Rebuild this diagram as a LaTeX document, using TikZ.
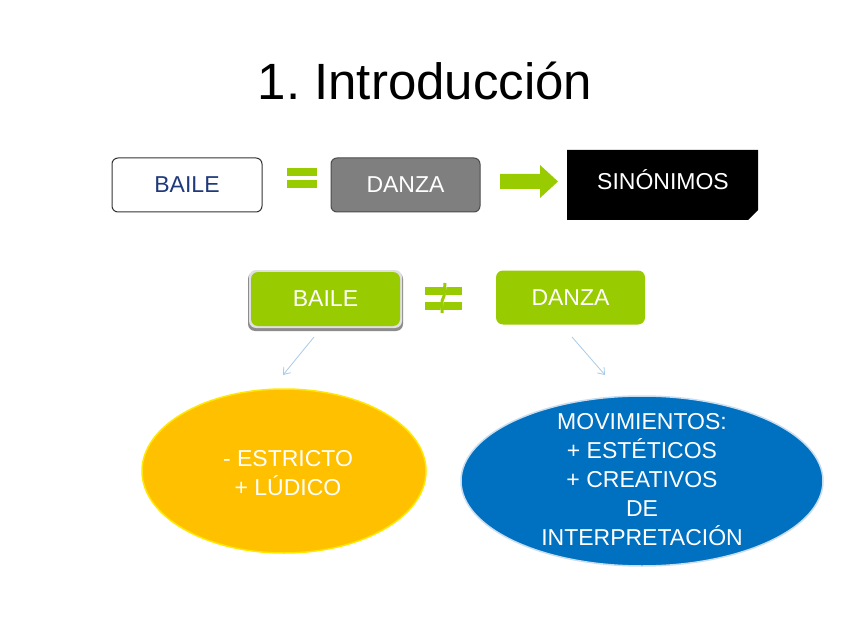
\documentclass[tikz,border=0pt]{standalone}
\usepackage{fontspec}
\setmainfont{Liberation Sans}
\usetikzlibrary{shapes.geometric,arrows.meta}
\definecolor{lgreen}{HTML}{99CC00}
\definecolor{navy}{HTML}{1F3A7A}
\definecolor{dgray}{HTML}{7F7F7F}
\definecolor{orng}{HTML}{FFC000}
\definecolor{oedge}{HTML}{FFE800}
\definecolor{blu}{HTML}{0070C0}
\definecolor{bedge}{HTML}{C9DDF0}
\definecolor{lblue}{HTML}{A9CBE8}
\tikzset{
  txt/.style={font=\fontsize{23}{29}\selectfont},
  boxw/.style={draw=black!80, line width=1pt, fill=white, rounded corners=6pt, minimum width=150pt, minimum height=54pt, inner sep=0pt, txt, text=navy},
  boxg/.style={draw=black!70, line width=1pt, fill=dgray, rounded corners=6pt, minimum width=149pt, minimum height=54pt, inner sep=0pt, txt, text=white},
  boxgreen/.style={fill=lgreen, rounded corners=7pt, minimum width=149pt, minimum height=54pt, inner sep=0pt, txt, text=white},
  conn/.style={draw=lblue, line width=0.8pt, -{Straight Barb[length=6pt,width=9pt]}},
  ell/.style={ellipse, inner sep=0pt},
  elltxt/.style={align=center, txt, text=white, inner sep=0pt},
}
\begin{document}
\begin{tikzpicture}[x=1pt,y=-1pt]
\useasboundingbox (0,0) rectangle (848,636);
\fill[white] (0,0) rectangle (848,636);
% title
\node[anchor=base, font=\fontsize{51}{60}\selectfont] (title) at (425,100) {1.\ Introducción};
% top row
\node[boxw] (baile1) at (187,185) {BAILE};
\fill[lgreen] (287,168) rectangle (317,176);
\fill[lgreen] (287,180) rectangle (317,188);
\node[boxg] (danza1) at (405.5,185) {DANZA};
\fill[lgreen] (500,174) -- (540,174) -- (540,165) -- (558,181.5) -- (540,198) -- (540,189) -- (500,189) -- cycle;
\node[minimum width=191pt, minimum height=70pt, inner sep=0pt] (sinbox) at (662.5,185) {};
\fill[black] (567,150) -- (758,150) -- (758,210) -- (748,220) -- (567,220) -- cycle;
\node[txt, text=white] (sin) at (663,180) {SINÓNIMOS};
% second row
\fill[black!45, rounded corners=7pt] (248,272) rectangle (403,331);
\fill[black!12, rounded corners=7pt] (249,270) rectangle (402,328);
\node[boxgreen] (baile2) at (325.5,299) {BAILE};
\fill[lgreen] (425,287) rectangle (462,295);
\fill[lgreen] (425,302) rectangle (462,310);
\draw[white, line width=2pt] (446,284) -- (441,313);
\draw[lgreen, line width=3pt] (445,283) -- (444,296) -- (442,301) -- (442,313);
\node[boxgreen] (danza2) at (570.5,297.5) {DANZA};
% ellipses
\node[ell, fill=orng, draw=oedge, line width=1.5pt, minimum width=284pt, minimum height=164pt] (strict) at (284,471) {};
\node[elltxt] (stricttxt) at (288,473) {- ESTRICTO\\+ LÚDICO};
\node[ell, fill=blu, draw=bedge, line width=1.5pt, minimum width=362pt, minimum height=170pt] (mov) at (642,481) {};
\node[elltxt] (movtxt) at (642,480) {MOVIMIENTOS:\\+ ESTÉTICOS\\+ CREATIVOS\\DE\\INTERPRETACIÓN};
% connectors
\coordinate (c1s) at (314,337);
\coordinate (c1e) at (283,375);
\coordinate (c2s) at (572,337);
\coordinate (c2e) at (605,375);
\draw[conn] (c1s) -- (c1e);
\draw[conn] (c2s) -- (c2e);
\end{tikzpicture}
\end{document}
